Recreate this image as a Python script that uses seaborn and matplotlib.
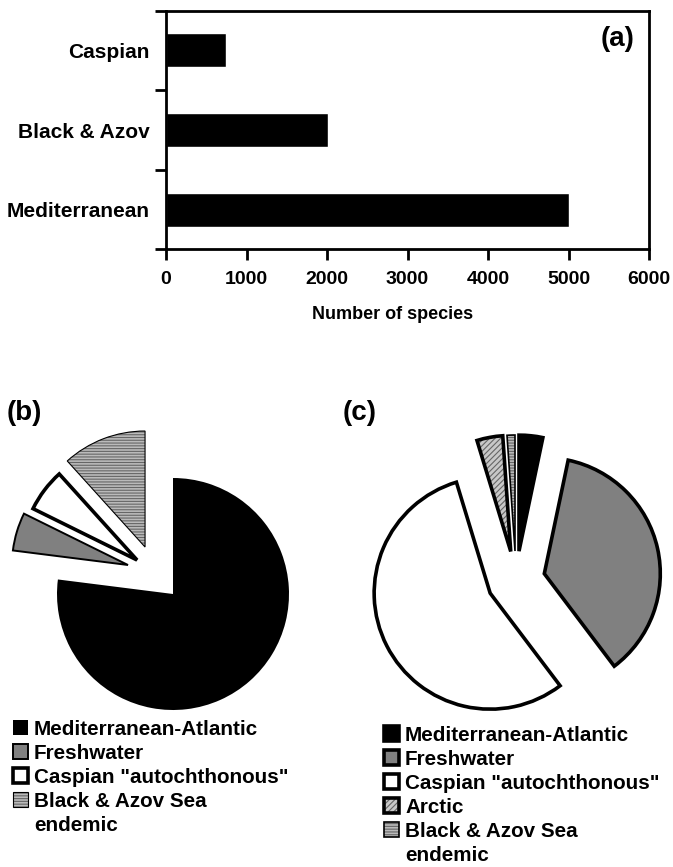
import numpy as np
import pandas as pd
import seaborn as sns
import matplotlib.pyplot as plt
from matplotlib.patches import Patch

sns.set_theme(style="white")
plt.rcParams['font.family'] = ['Liberation Sans', 'DejaVu Sans']
plt.rcParams['font.weight'] = 'bold'
plt.rcParams['hatch.linewidth'] = 0.8
for key in ["text.color", "axes.labelcolor", "xtick.color", "ytick.color", "axes.edgecolor"]:
    plt.rcParams[key] = "black"

# (a) species per sea
seas = ["Caspian", "Black & Azov", "Mediterranean"]
n_species = [740, 2010, 5010]

# (b) Black & Azov fauna by origin, percent
groups_b = ["Mediterranean-Atlantic", "Freshwater", 'Caspian "autochthonous"', "Black & Azov Sea"]
share_b = [77.0, 5.3, 6.0, 11.7]

# (c) Caspian fauna by origin, percent
groups_c = ["Mediterranean-Atlantic", "Freshwater", 'Caspian "autochthonous"', "Arctic", "Black & Azov Sea"]
share_c = [3.3, 36.4, 55.6, 3.6, 1.1]

W, H = 673, 867
fig = plt.figure(figsize=(W / 100, H / 100), dpi=100)


def box(x0, y0, x1, y1):
    # pixel box (top-left origin) -> figure fraction rect
    return [x0 / W, 1 - y1 / H, (x1 - x0) / W, (y1 - y0) / H]


# ---- (a) bar chart ----
ax = fig.add_axes(box(166, 11, 649, 249))
df = pd.DataFrame({"sea": seas, "n": n_species})
sns.barplot(data=df, y="sea", x="n", color="black", saturation=1, width=0.42, ax=ax)
ax.set_xlim(0, 6000)
ax.set_ylim(2.49, -0.49)
ax.set_xticks(range(0, 6001, 1000))
ax.set_yticks([-0.49, 0.5, 1.5, 2.49], minor=True)
ax.tick_params(axis="x", direction="out", length=8, width=2, labelsize=14, pad=8, bottom=True)
ax.tick_params(axis="y", which="major", length=0, labelsize=15, pad=12)
ax.tick_params(axis="y", which="minor", direction="out", length=8, width=2, left=True)
for s in ax.spines.values():
    s.set_color("black")
    s.set_linewidth(2)
ax.set_ylabel("")
ax.set_xlabel("Number of species", fontsize=13, fontweight="bold")
ax.xaxis.set_label_coords(0.47, -0.24)
ax.text(0.934, 0.882, "(a)", transform=ax.transAxes, fontsize=20, fontweight="bold",
        ha="center", va="center")

fig.text(7 / W, 1 - 413 / H, "(b)", fontsize=20, fontweight="bold", va="center")
fig.text(343 / W, 1 - 413 / H, "(c)", fontsize=20, fontweight="bold", va="center")


def hatched_pie(axp, shares, fills, hatches, hcols, edge_w, explode, shift=None):
    fill_w, _ = axp.pie(shares, startangle=90, counterclock=False, explode=explode,
                        colors=fills, wedgeprops=dict(linewidth=0))
    for w, h, c in zip(fill_w, hatches, hcols):
        if h:
            w.set_hatch(h)
            w.set_edgecolor(c)
    line_w, _ = axp.pie(shares, startangle=90, counterclock=False, explode=explode,
                        wedgeprops=dict(fill=False, edgecolor="black"))
    for w, lw in zip(line_w, edge_w):
        w.set_linewidth(lw)
    if shift is not None:
        # pulled-out slices in (b) were not moved straight outward
        for wf, wl, d in zip(fill_w, line_w, shift):
            wf.set_center(d)
            wl.set_center(d)
    return list(zip(fill_w, line_w))


# ---- (b) pie ----
axb = fig.add_axes(box(0, 420, 300, 720))
shift_b = [(0, 0), (-0.388, 0.25), (-0.31, 0.293), (-0.241, 0.405)]
hb = hatched_pie(axb, share_b,
                 ["black", "#808080", "white", "#bababa"],
                 [None, None, None, "------"],
                 [None, None, None, "#666666"],
                 [0, 1.4, 2.6, 0.8],
                 [0] * 4, shift_b)
axb.set_xlim(-173 / 116, 127 / 116)
axb.set_ylim(-126 / 116, 174 / 116)
axb.set_aspect("auto")
axb.axis("off")

# ---- (c) pie ----
axc = fig.add_axes(box(370, 425, 670, 725))
hc = hatched_pie(axc, share_c,
                 ["black", "#808080", "white", "#c8c8c8", "#bababa"],
                 [None, None, None, "//////", "------"],
                 [None, None, None, "#666666", "#666666"],
                 [2.6, 2.6, 2.6, 2.6, 1.2],
                 [0.25] * 5)
axc.set_xlim(-146 / 116, 154 / 116)
axc.set_ylim(-145 / 116, 155 / 116)
axc.set_aspect("auto")
axc.axis("off")

blank = Patch(visible=False)
leg_kw = dict(loc="upper left", frameon=False, handlelength=0.72,
              handleheight=0.72, handletextpad=0.3, labelspacing=0.24,
              borderpad=0, borderaxespad=0, prop=dict(weight="bold", size=14.9))
fig.legend(hb + [blank], groups_b + ["endemic"],
           bbox_to_anchor=(13 / W, 1 - 720 / H), **leg_kw)
fig.legend(hc + [blank], groups_c + ["endemic"],
           bbox_to_anchor=(384 / W, 1 - 726 / H), **leg_kw)

fig.savefig("out.png", dpi=100)
